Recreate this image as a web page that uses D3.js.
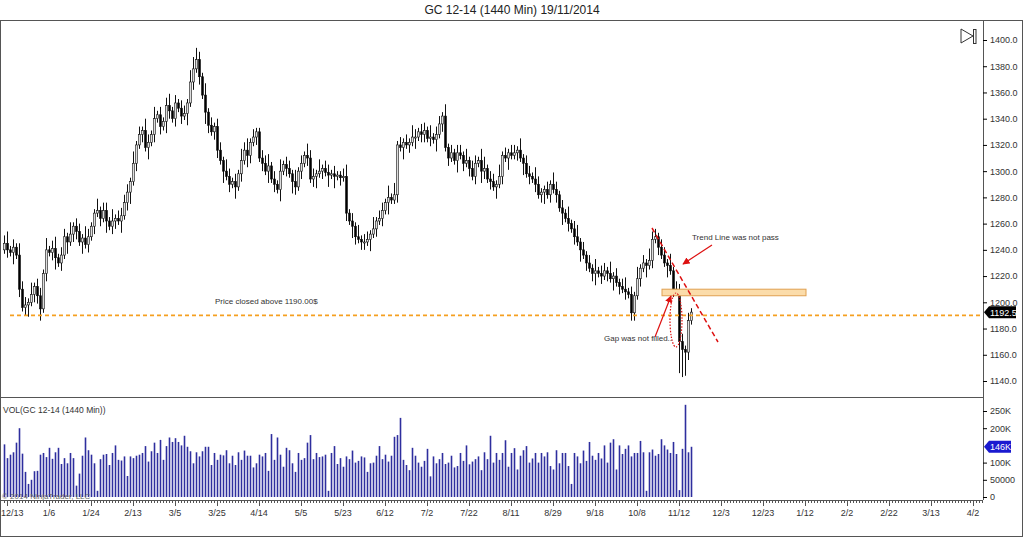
<!DOCTYPE html>
<html><head><meta charset="utf-8">
<script src="https://cdn.jsdelivr.net/npm/d3@7"></script>
<style>body{margin:0;background:#fff}svg{font-family:Arial,"Liberation Sans",sans-serif}</style>
</head><body><svg id="c" width="1024" height="538"></svg>
<script>
const closes=[1245,1240,1238,1242,1236,1210,1196,1198,1200,1206,
1212,1205,1195,1222,1240,1238,1241,1234,1230,1236,
1250,1246,1252,1258,1254,1246,1249,1244,1250,1258,
1268,1270,1264,1270,1262,1258,1262,1264,1262,1266,
1276,1284,1292,1306,1320,1328,1331,1318,1322,1328,
1340,1343,1334,1338,1350,1346,1340,1352,1348,1342,
1344,1352,1368,1378,1385,1372,1358,1345,1335,1330,
1334,1316,1308,1300,1296,1290,1292,1288,1298,1308,
1316,1312,1322,1326,1330,1310,1306,1300,1304,1294,
1290,1286,1300,1305,1302,1298,1292,1288,1300,1306,
1312,1310,1294,1296,1298,1300,1302,1299,1297,1298,
1296,1297,1295,1296,1268,1262,1258,1250,1248,1246,
1246,1248,1252,1256,1262,1264,1270,1276,1280,1278,
1282,1320,1318,1322,1320,1322,1326,1326,1330,1328,
1331,1325,1326,1324,1328,1336,1342,1318,1310,1314,
1308,1314,1312,1306,1308,1302,1296,1306,1308,1300,
1302,1294,1292,1288,1290,1296,1312,1310,1314,1312,
1314,1316,1310,1306,1298,1296,1294,1290,1282,1284,
1286,1282,1290,1286,1282,1272,1268,1264,1260,1256,
1250,1246,1240,1236,1230,1226,1222,1224,1222,1220,
1224,1222,1218,1220,1215,1212,1210,1208,1206,1192,
1205,1218,1226,1230,1228,1232,1248,1250,1242,1236,
1230,1228,1224,1210,1208,1170,1164,1162,1186,1192.5];
const wickUpGroups=["2312132213","1221312312","2131221321","1312213122","2213121321","3121231212","2133321312","1221321213","2312112231","2131221312","1322131221","2112312131","2213122131","3121213212","2131221312","1221312213","3122131212","2131221321","1213212131","2312121312","2131212312","1312132212","2131222121"];
const wickDnGroups=["1213121231","2231212312","1312213121","2121312213","1231212131","2121321212","1312121321","2213121312","1321212131","2131213212","1212312131","3121213212","2131212131","1213121312","2121312121","1312121213","2121312131","1213121212","3121213121","2131212312","1213121212","2121312121","1312187621"];
const volumes=[153,113,123,130,158,200,126,73,38,50,
75,76,123,128,116,143,111,130,143,96,
113,98,128,113,33,68,120,173,136,123,
98,18,110,123,125,93,128,150,108,106,
118,61,118,113,120,123,128,148,103,133,
158,128,166,108,148,173,160,171,160,150,
178,146,133,98,130,118,133,146,146,93,
128,108,123,121,136,98,120,93,130,108,
135,120,120,86,98,123,118,128,76,183,
108,173,123,88,143,136,98,73,128,108,
113,158,180,110,128,116,118,123,18,128,
148,96,113,88,118,110,135,100,105,118,
115,73,98,100,120,148,110,123,103,120,
175,180,230,108,93,78,143,120,100,88,
105,140,60,118,98,110,128,96,100,120,
86,90,128,105,150,95,103,110,118,78,
130,110,178,100,128,108,128,165,88,128,
142,80,120,136,148,100,112,128,100,128,
118,130,90,80,136,98,128,128,90,38,
128,118,98,135,105,160,120,108,128,112,
150,100,158,168,80,150,125,140,150,118,
128,128,163,130,18,130,138,120,125,168,
150,138,128,160,125,20,140,268,130,146];
const dateLabels=["12/13","1/6","1/24","2/13","3/5","3/25","4/14","5/5","5/23","6/12","7/2","7/22","8/11","8/29","9/18","10/8","11/12","12/3","12/23","1/12","2/2","2/22","3/13","4/2"];
const priceTicks=[1140,1160,1180,1200,1220,1240,1260,1280,1300,1320,1340,1360,1380,1400];
const priceTickLabels=["1140.0","1160.0","1180.0","1200.0","1220.0","1240.0","1260.0","1280.0","1300.0","1320.0","1340.0","1360.0","1380.0","1400.0"];
const volTicks=[0,50,100,200,250];
const volTickLabels=["0","50000","100K","200K","250K"];

const wickUp=wickUpGroups.join(""), wickDn=wickDnGroups.join("");
const svg=d3.select("#c");
const x=d3.scaleLinear().domain([0,326]).range([4,982]);
const y=d3.scaleLinear().domain([1140,1400]).range([381,40]);
const yv=d3.scaleLinear().domain([0,250]).range([497,411]);
const data=closes.map((c,i)=>{const o=i?closes[i-1]:1240;return{i,o,c,h:Math.max(o,c)+(+wickUp[i]||1)*3,l:Math.min(o,c)-(+wickDn[i]||1)*3,v:volumes[i]};});

svg.append("rect").attr("x",0.5).attr("y",20.5).attr("width",1022).attr("height",516).attr("fill","none").attr("stroke","#555");
svg.append("text").attr("x",512).attr("y",14).attr("text-anchor","middle").attr("font-size",12).attr("fill","#222").text("GC 12-14 (1440 Min)  19/11/2014");
svg.append("line").attr("x1",0).attr("x2",983).attr("y1",397.5).attr("y2",397.5).attr("stroke","#555");
svg.append("line").attr("x1",983.5).attr("x2",983.5).attr("y1",21).attr("y2",500).attr("stroke","#555");
svg.append("line").attr("x1",0).attr("x2",983).attr("y1",500.5).attr("y2",500.5).attr("stroke","#555");

const pa=svg.append("g").attr("transform","translate(983,0)").call(d3.axisRight(y).tickValues(priceTicks).tickFormat((d,k)=>priceTickLabels[k]).tickSize(4));
pa.select(".domain").remove();
pa.selectAll("text").attr("font-size",9).attr("fill","#333").attr("font-family","Arial");
const va=svg.append("g").attr("transform","translate(983,0)").call(d3.axisRight(yv).tickValues(volTicks).tickFormat((d,k)=>volTickLabels[k]).tickSize(4));
va.select(".domain").remove();
va.selectAll("text").attr("font-size",9).attr("fill","#333").attr("font-family","Arial");

const xa=svg.append("g").attr("transform","translate(0,500)");
xa.selectAll("line.m").data(d3.range(0,327)).join("line").attr("x1",d=>x(d)+.5).attr("x2",d=>x(d)+.5).attr("y1",0).attr("y2",d=>d%14===1?6:3).attr("stroke","#555");
xa.selectAll("text").data(dateLabels).join("text").attr("x",(d,k)=>k?x(1+14*k):1).attr("y",16).attr("text-anchor",(d,k)=>k?"middle":"start").attr("font-size",9).attr("fill","#333").text(d=>d);

const cg=svg.append("g");
cg.selectAll("line").data(data).join("line").attr("x1",d=>x(d.i)+.5).attr("x2",d=>x(d.i)+.5).attr("y1",d=>y(d.h)).attr("y2",d=>y(d.l)).attr("stroke","#111").attr("stroke-width",1);
cg.selectAll("rect").data(data).join("rect").attr("x",d=>x(d.i)-0.5).attr("width",2).attr("y",d=>y(Math.max(d.o,d.c))).attr("height",d=>Math.max(1,Math.abs(y(d.o)-y(d.c)))).attr("fill",d=>d.c>=d.o?"#ddd":"#000").attr("stroke","#111").attr("stroke-width",0.6);

svg.append("g").selectAll("line").data(data).join("line").attr("x1",d=>x(d.i)+.5).attr("x2",d=>x(d.i)+.5).attr("y1",yv(0)).attr("y2",d=>yv(d.v)).attr("stroke","#2e2e9e").attr("stroke-width",1.6);
svg.append("text").attr("x",3).attr("y",413).attr("font-size",8.5).attr("fill","#333").text("VOL(GC 12-14 (1440 Min))");
svg.append("text").attr("x",2).attr("y",499).attr("font-size",8).attr("fill","#666").text("© 2014 NinjaTrader, LLC");

svg.append("line").attr("x1",10).attr("x2",983).attr("y1",y(1190)).attr("y2",y(1190)).attr("stroke","#f5a020").attr("stroke-width",1.6).attr("stroke-dasharray","4,3");
svg.append("text").attr("x",215).attr("y",304).attr("font-size",8).attr("fill","#333").text("Price closed above 1190.00$");
svg.append("rect").attr("x",662).attr("width",144).attr("y",y(1210)).attr("height",y(1205)-y(1210)).attr("fill","#fbdcaa").attr("stroke","#e0a050");
svg.append("line").attr("x1",652).attr("y1",228).attr("x2",718).attr("y2",342).attr("stroke","#dd1111").attr("stroke-width",1.5).attr("stroke-dasharray","5,3");
svg.append("ellipse").attr("cx",676).attr("cy",320).attr("rx",6).attr("ry",27).attr("fill","none").attr("stroke","#dd1111").attr("stroke-width",1.2).attr("stroke-dasharray","1.5,1.5");
const defs=svg.append("defs");
defs.append("marker").attr("id","ah").attr("viewBox","0 0 10 10").attr("refX",9).attr("refY",5).attr("markerWidth",6).attr("markerHeight",6).attr("orient","auto").append("path").attr("d","M0,0L10,5L0,10Z").attr("fill","#dd1111");
svg.append("line").attr("x1",712).attr("y1",245).attr("x2",683).attr("y2",264).attr("stroke","#dd1111").attr("stroke-width",1.2).attr("marker-end","url(#ah)");
svg.append("line").attr("x1",655).attr("y1",337).attr("x2",671).attr("y2",296).attr("stroke","#dd1111").attr("stroke-width",1.2).attr("marker-end","url(#ah)");
svg.append("text").attr("x",692).attr("y",240).attr("font-size",8).attr("fill","#333").text("Trend Line was not pass");
svg.append("text").attr("x",604).attr("y",341).attr("font-size",8).attr("fill","#333").text("Gap was not filled..");

svg.append("path").attr("d",`M984,${y(1192.5)}L989,${y(1192.5)-6}L1016,${y(1192.5)-6}L1016,${y(1192.5)+6}L989,${y(1192.5)+6}Z`).attr("fill","#000");
svg.append("text").attr("x",990).attr("y",y(1192.5)+3.5).attr("font-size",9).attr("fill","#fff").text("1192.5");
svg.append("path").attr("d",`M984,${yv(146)}L989,${yv(146)-6}L1011,${yv(146)-6}L1011,${yv(146)+6}L989,${yv(146)+6}Z`).attr("fill","#1a1ad0");
svg.append("text").attr("x",990).attr("y",yv(146)+3.5).attr("font-size",9).attr("fill","#fff").text("146K");
svg.append("path").attr("d","M961,29L973,36L961,43Z").attr("fill","none").attr("stroke","#333");
svg.append("rect").attr("x",973.5).attr("y",29.5).attr("width",2.5).attr("height",14).attr("fill","none").attr("stroke","#333");
</script></body></html>
